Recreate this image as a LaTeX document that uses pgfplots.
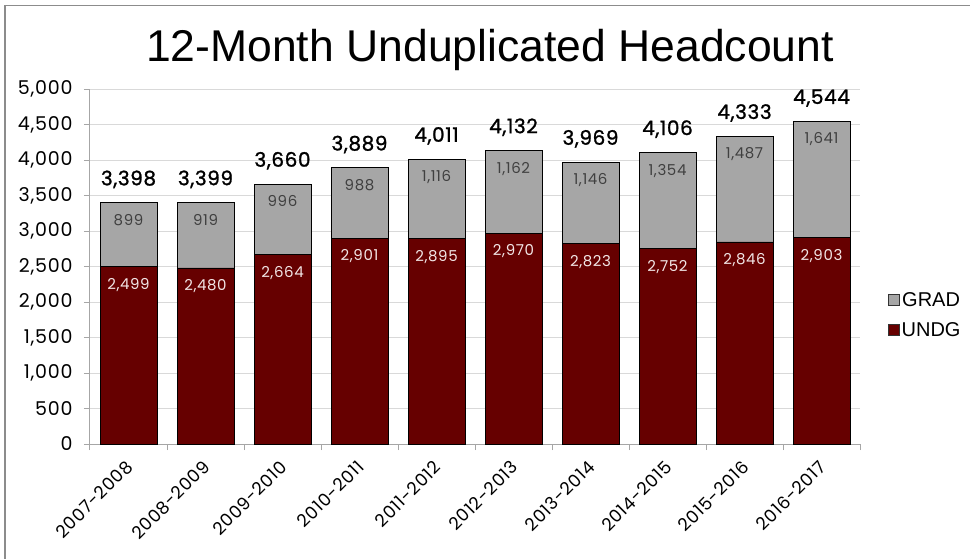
\documentclass[border=0pt]{standalone}
\usepackage{pgfplots}
\pgfplotsset{compat=1.18}
\usepackage{pgfplotstable}
\usepackage{fontspec}
\setmainfont{Liberation Sans}
\newfontfamily\gothic[LetterSpace=4]{Poppins}
\newfontfamily\gothicb[LetterSpace=3,FakeBold=1.2]{Poppins}
\definecolor{undg}{HTML}{660000}
\definecolor{grad}{HTML}{A6A6A6}
\definecolor{axgray}{HTML}{A6A6A6}
\definecolor{gridgray}{HTML}{D9D9D9}
\definecolor{framegray}{HTML}{8C8C8C}
\definecolor{undgtext}{HTML}{F2E6E6}
\definecolor{gradtext}{HTML}{404040}

\pgfplotstableread{
x undg grad total
0 2499 899  3398
1 2480 919  3399
2 2664 996  3660
3 2901 988  3889
4 2895 1116 4011
5 2970 1162 4132
6 2823 1146 3969
7 2752 1354 4106
8 2846 1487 4333
9 2903 1641 4544
}\datatable

\pgfplotsset{
  commonaxis/.style={
    at={(90pt,114pt)}, anchor=south west,
    width=770pt, height=355pt, scale only axis,
    xmin=-0.5, xmax=9.5, ymin=0, ymax=5000,
    /pgf/number format/assume math mode=true,
    /pgf/number format/1000 sep={,},
  }
}

\begin{document}
\begin{tikzpicture}[x=1pt,y=1pt]
\useasboundingbox (0,0) rectangle (970,558);
\fill[white] (0,0) rectangle (970,558);
\draw[framegray, line width=1.5pt] (5,-2) -- (5,552.5) -- (972,552.5);
\node[anchor=base, font=\fontsize{44.5}{44.5}\selectfont, inner sep=0pt] at (490,496) {12-Month Unduplicated Headcount};
\begin{axis}[
  commonaxis,
  ybar stacked, bar width=57pt,
  ytick={0,500,...,5000},
  xtick={-0.5,0.5,...,9.5},
  xticklabels={},
  extra x ticks={0,1,...,9},
  extra x tick labels={2007-2008,2008-2009,2009-2010,2010-2011,2011-2012,2012-2013,2013-2014,2014-2015,2015-2016,2016-2017},
  extra x tick style={major tick length=0pt, xmajorgrids=false,
    xticklabel style={xshift=3.5pt, yshift=-17.5pt, rotate=45, anchor=east, font=\gothic\fontsize{17.5}{17.5}\selectfont}},
  axis x line*=bottom, axis y line*=left,
  axis line style={axgray, line width=1pt, -},
  tick style={axgray, line width=1pt},
  tick align=outside,
  major tick length=6pt,
  ymajorgrids, grid style={gridgray, line width=0.8pt},
  yticklabel style={font=\gothic\fontsize{19}{19}\selectfont, xshift=-8pt},
  legend style={at={(1.032,0.363)}, anchor=west, draw=none, fill=none,
    font=\fontsize{20}{20}\selectfont, row sep=11pt,
    /tikz/every even column/.append style={column sep=2pt}},
  reverse legend,
]
\addplot+[fill=undg, draw=black, line width=0.8pt,
  legend image code/.code={\draw[fill=undg, draw=black!80, line width=0.8pt] (0pt,-5.5pt) rectangle (11pt,5.5pt);}]
  table[x=x, y=undg] {\datatable};
\addlegendentry{UNDG}
\addplot+[fill=grad, draw=black, line width=0.8pt,
  legend image code/.code={\draw[fill=grad, draw=black!80, line width=0.8pt] (0pt,-5.5pt) rectangle (11pt,5.5pt);}]
  table[x=x, y=grad] {\datatable};
\addlegendentry{GRAD}
\end{axis}
\begin{axis}[commonaxis, hide axis]
\addplot[draw=none, mark=none, nodes near coords, point meta=explicit,
  nodes near coords style={anchor=north, yshift=-8pt, text=undgtext, font=\gothic\fontsize{15}{15}\selectfont}]
  table[x=x, y=undg, meta=undg] {\datatable};
\addplot[draw=none, mark=none, nodes near coords, point meta=explicit,
  nodes near coords style={anchor=north, yshift=-8pt, text=gradtext, font=\gothic\fontsize{15}{15}\selectfont}]
  table[x=x, y=total, meta=grad] {\datatable};
\addplot[draw=none, mark=none, nodes near coords, point meta=explicit,
  nodes near coords style={anchor=south, yshift=11pt, text=black, font=\gothicb\fontsize{20}{20}\selectfont}]
  table[x=x, y=total, meta=total] {\datatable};
\end{axis}
\end{tikzpicture}
\end{document}
